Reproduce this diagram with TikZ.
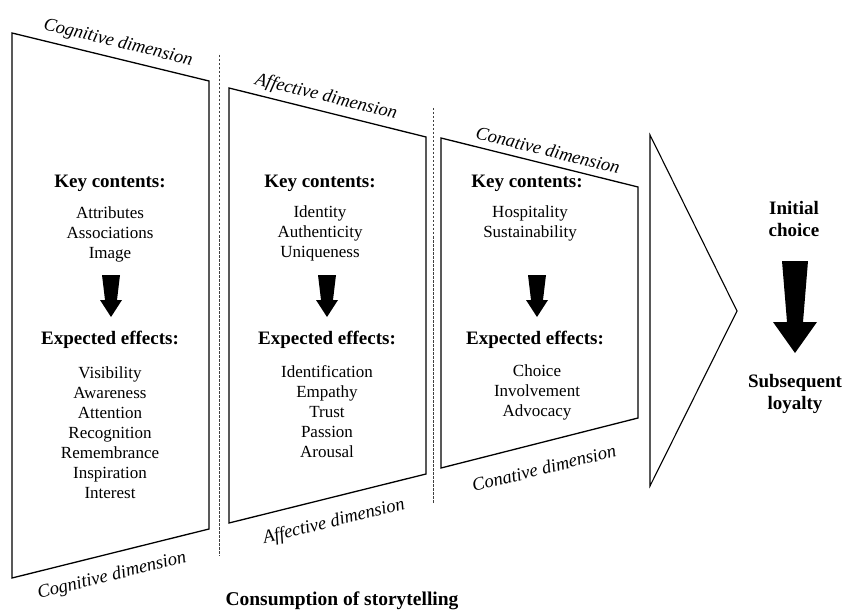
\documentclass[tikz,border=0pt]{standalone}
\usepackage{fontspec}
\setmainfont{Liberation Serif}
\begin{document}
\begin{tikzpicture}[x=1pt,y=-1pt]
\tikzset{
  box/.style={draw=black, line width=1.3pt, line join=miter},
  sepline/.style={draw=black!75, line width=0.8pt, dash pattern=on 2.5pt off 1.5pt},
  dimlabel/.style={font=\fontsize{18.5}{20}\selectfont\itshape, inner sep=0pt},
  head/.style={font=\fontsize{19}{22}\selectfont\bfseries, inner sep=0pt, align=center},
  items/.style={font=\fontsize{17}{20}\selectfont, inner sep=0pt, align=center},
  blockarrow/.style={fill=black}
}
\useasboundingbox (0,0) rectangle (845,612);

% boxes
\draw[box] (12,33) -- (209,81) -- (209,529) -- (12,578) -- cycle;
\draw[box] (229,88) -- (426,137) -- (426,474) -- (229,523) -- cycle;
\draw[box] (441,138) -- (638,187) -- (638,418) -- (441,468) -- cycle;
\draw[line width=1.1pt, line join=miter] (650,135) -- (737,311) -- (650,486) -- cycle;

% dashed separators
\coordinate (s1a) at (219,55);  \coordinate (s1b) at (219,556);
\coordinate (s2a) at (433,108); \coordinate (s2b) at (433,503);
\draw[sepline] (s1a) -- (s1b);
\draw[sepline] (s2a) -- (s2b);

% dimension labels
\node[dimlabel, rotate=-13.7] (cogtop) at (118,43) {Cognitive dimension};
\node[dimlabel, rotate=14] (cogbot) at (112,576) {Cognitive dimension};
\node[dimlabel, rotate=-13.7] (afftop) at (326,97) {Affective dimension};
\node[dimlabel, rotate=14] (affbot) at (334,522) {Affective dimension};
\node[dimlabel, rotate=-13.7] (contop) at (548,150) {Conative dimension};
\node[dimlabel, rotate=14] (conbot) at (544,468) {Conative dimension};

% box 1
\node[head] (k1) at (110,183) {Key contents:};
\node[items] (k1i) at (110,234) {Attributes\\Associations\\Image};
\fill[blockarrow, shift={(111,275)}] (-9,0) -- (9,0) -- (6,25) -- (11,25) -- (0,42) -- (-11,25) -- (-6,25) -- cycle;
\node[head] (e1) at (110,340) {Expected effects:};
\node[items] (e1i) at (110,432.5) {Visibility\\Awareness\\Attention\\Recognition\\Remembrance\\Inspiration\\Interest};

% box 2
\node[head] (k2) at (320,183) {Key contents:};
\node[items] (k2i) at (320,233) {Identity\\Authenticity\\Uniqueness};
\fill[blockarrow, shift={(327,275)}] (-9,0) -- (9,0) -- (6,25) -- (11,25) -- (0,42) -- (-11,25) -- (-6,25) -- cycle;
\node[head] (e2) at (327,340) {Expected effects:};
\node[items] (e2i) at (327,412) {Identification\\Empathy\\Trust\\Passion\\Arousal};

% box 3
\node[head] (k3) at (527,183) {Key contents:};
\node[items] (k3i) at (530,223) {Hospitality\\Sustainability};
\fill[blockarrow, shift={(537,275)}] (-9,0) -- (9,0) -- (6,25) -- (11,25) -- (0,42) -- (-11,25) -- (-6,25) -- cycle;
\node[head] (e3) at (535,340) {Expected effects:};
\node[items] (e3i) at (537,392) {Choice\\Involvement\\Advocacy};

% right side
\node[head] (init) at (794,219) {Initial\\choice};
\fill[blockarrow, shift={(795,261)}] (-13,0) -- (13,0) -- (8,61) -- (22,61) -- (0,92) -- (-22,61) -- (-8,61) -- cycle;
\node[head] (subs) at (795,394) {Subsequent\\loyalty};

% title
\node[head, font=\fontsize{19.5}{22}\selectfont\bfseries] (title) at (342,601) {Consumption of storytelling};
\end{tikzpicture}
\end{document}
